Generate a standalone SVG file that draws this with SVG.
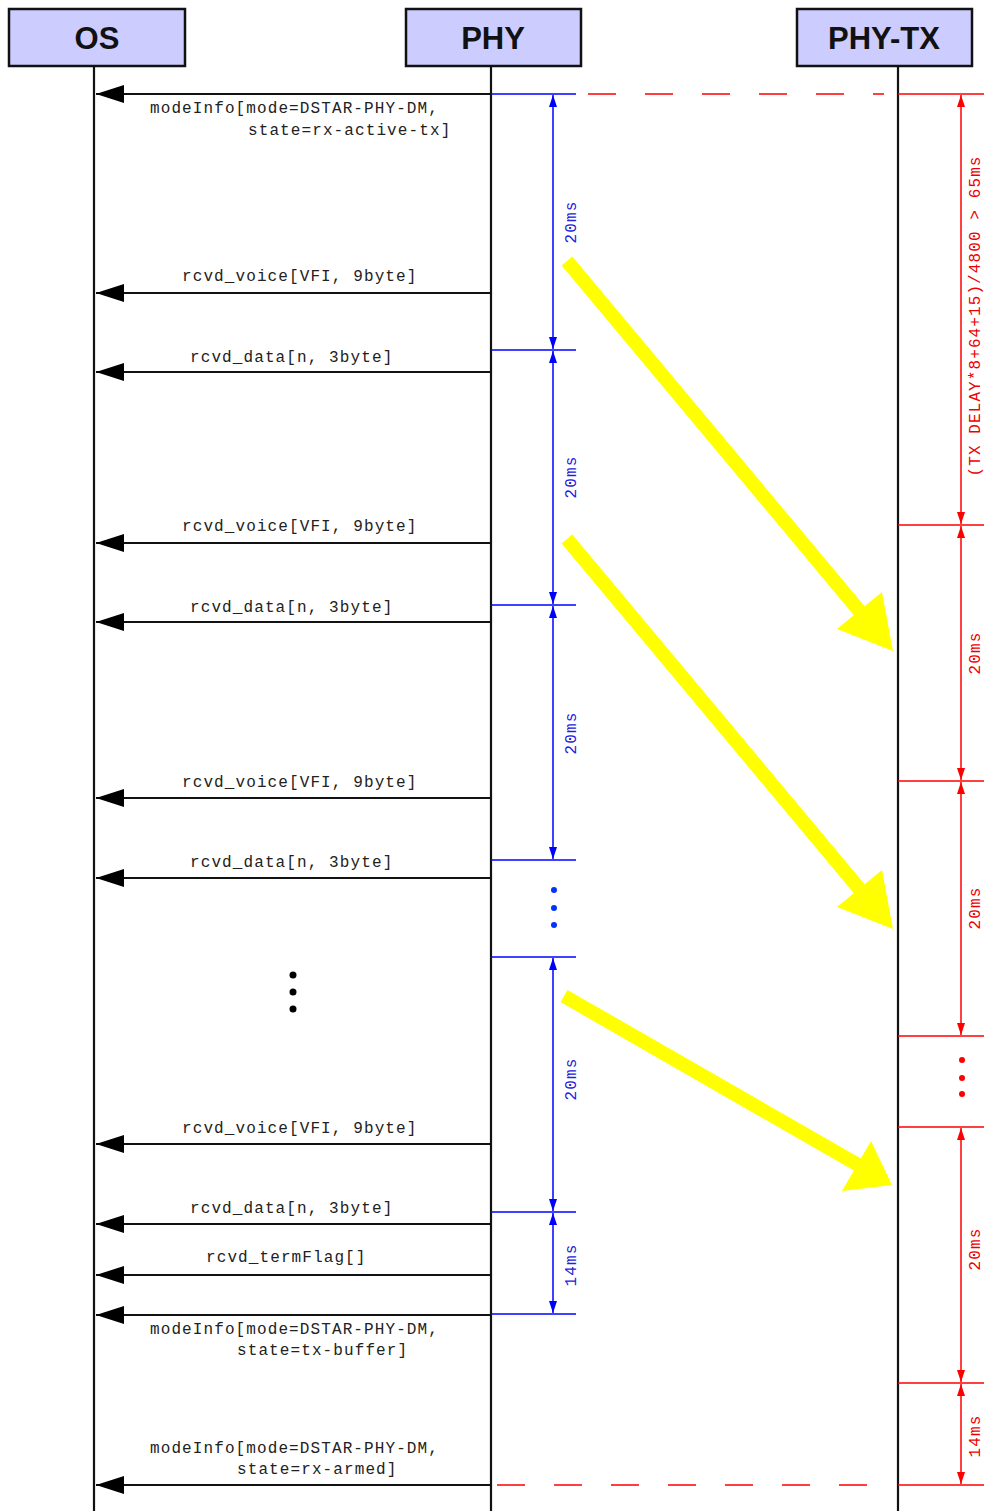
<svg xmlns="http://www.w3.org/2000/svg" width="984" height="1511" viewBox="0 0 984 1511">
<defs>
<style>
.box{fill:#ccccff;stroke:#111;stroke-width:2.5}
.hdr{font-family:"Liberation Sans",Arial,sans-serif;font-weight:bold;font-size:31px;fill:#111;text-anchor:middle}
.life{stroke:#111;stroke-width:2.2;fill:none}
.msg{stroke:#111;stroke-width:2;fill:none;marker-end:url(#ah)}
.mono{font-family:"Liberation Mono","Courier New",monospace;font-size:16px;letter-spacing:1.1px;fill:#222}
.bl{stroke:#0000ff;stroke-width:1.5;fill:none}
.bd{stroke:#0000ff;stroke-width:1.5;fill:none;marker-start:url(#ab);marker-end:url(#ab)}
.rl{stroke:#ff0000;stroke-width:1.5;fill:none}
.rd{stroke:#ff0000;stroke-width:1.5;fill:none;marker-start:url(#ar);marker-end:url(#ar)}
.dash{stroke:#ff0000;stroke-width:1.5;fill:none;stroke-dasharray:28 29}
.btxt{font-family:"Liberation Mono","Courier New",monospace;font-size:16px;letter-spacing:1.1px;fill:#2222dd;text-anchor:middle}
.rtxt{font-family:"Liberation Mono","Courier New",monospace;font-size:16px;letter-spacing:1.1px;fill:#ee0000;text-anchor:middle}
.yl{stroke:#ffff00;stroke-width:14;fill:none}
.yh{fill:#ffff00}
</style>
<marker id="ah" markerUnits="userSpaceOnUse" markerWidth="30" markerHeight="20" refX="28" refY="9" orient="auto"><path d="M0,0 L28,9 L0,18 z" fill="#000"/></marker>
<marker id="ab" markerUnits="userSpaceOnUse" markerWidth="14" markerHeight="10" refX="12" refY="4" orient="auto-start-reverse"><path d="M0,0 L12,4 L0,8 z" fill="#0000ff"/></marker>
<marker id="ar" markerUnits="userSpaceOnUse" markerWidth="14" markerHeight="10" refX="12" refY="4" orient="auto-start-reverse"><path d="M0,0 L12,4 L0,8 z" fill="#ff0000"/></marker>
</defs>
<rect width="984" height="1511" fill="#fff"/>

<g id="node-os">
<line class="life" x1="94" y1="66" x2="94" y2="1511"/>
<rect class="box" x="9" y="9" width="176" height="57"/>
<text class="hdr" x="97" y="49">OS</text>
</g>
<g id="node-phy">
<line class="life" x1="491" y1="66" x2="491" y2="1511"/>
<rect class="box" x="406" y="9" width="175" height="57"/>
<text class="hdr" x="493" y="49">PHY</text>
</g>
<g id="node-phytx">
<line class="life" x1="898" y1="66" x2="898" y2="1511"/>
<rect class="box" x="797" y="9" width="175" height="57"/>
<text class="hdr" x="884" y="49">PHY-TX</text>
</g>

<g id="connectors">
<line class="msg" x1="491" y1="94" x2="96" y2="94"/>
<line class="msg" x1="491" y1="293" x2="96" y2="293"/>
<line class="msg" x1="491" y1="372" x2="96" y2="372"/>
<line class="msg" x1="491" y1="543" x2="96" y2="543"/>
<line class="msg" x1="491" y1="622" x2="96" y2="622"/>
<line class="msg" x1="491" y1="798" x2="96" y2="798"/>
<line class="msg" x1="491" y1="878" x2="96" y2="878"/>
<line class="msg" x1="491" y1="1144" x2="96" y2="1144"/>
<line class="msg" x1="491" y1="1224" x2="96" y2="1224"/>
<line class="msg" x1="491" y1="1275" x2="96" y2="1275"/>
<line class="msg" x1="491" y1="1315" x2="96" y2="1315"/>
<line class="msg" x1="491" y1="1485" x2="96" y2="1485"/>
</g>

<g id="labels">
<text class="mono" x="150" y="113">modeInfo[mode=DSTAR-PHY-DM,</text>
<text class="mono" x="248" y="135">state=rx-active-tx]</text>
<text class="mono" x="182" y="281">rcvd_voice[VFI, 9byte]</text>
<text class="mono" x="190" y="362">rcvd_data[n, 3byte]</text>
<text class="mono" x="182" y="531">rcvd_voice[VFI, 9byte]</text>
<text class="mono" x="190" y="612">rcvd_data[n, 3byte]</text>
<text class="mono" x="182" y="787">rcvd_voice[VFI, 9byte]</text>
<text class="mono" x="190" y="867">rcvd_data[n, 3byte]</text>
<text class="mono" x="182" y="1133">rcvd_voice[VFI, 9byte]</text>
<text class="mono" x="190" y="1213">rcvd_data[n, 3byte]</text>
<text class="mono" x="206" y="1262">rcvd_termFlag[]</text>
<text class="mono" x="150" y="1334">modeInfo[mode=DSTAR-PHY-DM,</text>
<text class="mono" x="237" y="1355">state=tx-buffer]</text>
<text class="mono" x="150" y="1453">modeInfo[mode=DSTAR-PHY-DM,</text>
<text class="mono" x="237" y="1474">state=rx-armed]</text>
</g>

<g id="dots-os">
<circle cx="293" cy="975" r="3.5" fill="#000"/>
<circle cx="293" cy="992" r="3.5" fill="#000"/>
<circle cx="293" cy="1009" r="3.5" fill="#000"/>
</g>

<g id="timing-phy">
<line class="bl" x1="491" y1="94" x2="576" y2="94"/>
<line class="bl" x1="491" y1="350" x2="576" y2="350"/>
<line class="bl" x1="491" y1="605" x2="576" y2="605"/>
<line class="bl" x1="491" y1="860" x2="576" y2="860"/>
<line class="bl" x1="491" y1="957" x2="576" y2="957"/>
<line class="bl" x1="491" y1="1212" x2="576" y2="1212"/>
<line class="bl" x1="491" y1="1314" x2="576" y2="1314"/>
<line class="bd" x1="553" y1="95" x2="553" y2="349"/>
<line class="bd" x1="553" y1="351" x2="553" y2="604"/>
<line class="bd" x1="553" y1="606" x2="553" y2="859"/>
<line class="bd" x1="553" y1="958" x2="553" y2="1211"/>
<line class="bd" x1="553" y1="1213" x2="553" y2="1313"/>
<circle cx="554" cy="890" r="3" fill="#0033ff"/>
<circle cx="554" cy="908" r="3" fill="#0033ff"/>
<circle cx="554" cy="925" r="3" fill="#0033ff"/>
<text class="btxt" transform="translate(576,222) rotate(-90)">20ms</text>
<text class="btxt" transform="translate(576,477) rotate(-90)">20ms</text>
<text class="btxt" transform="translate(576,733) rotate(-90)">20ms</text>
<text class="btxt" transform="translate(576,1079) rotate(-90)">20ms</text>
<text class="btxt" transform="translate(576,1265) rotate(-90)">14ms</text>
</g>

<g id="timing-phytx">
<line class="dash" x1="588" y1="94" x2="884" y2="94"/>
<line class="dash" x1="497" y1="1485" x2="884" y2="1485"/>
<line class="rl" x1="898" y1="94" x2="984" y2="94"/>
<line class="rl" x1="898" y1="525" x2="984" y2="525"/>
<line class="rl" x1="898" y1="781" x2="984" y2="781"/>
<line class="rl" x1="898" y1="1036" x2="984" y2="1036"/>
<line class="rl" x1="898" y1="1127" x2="984" y2="1127"/>
<line class="rl" x1="898" y1="1383" x2="984" y2="1383"/>
<line class="rl" x1="898" y1="1485" x2="984" y2="1485"/>
<line class="rd" x1="961" y1="95" x2="961" y2="524"/>
<line class="rd" x1="961" y1="526" x2="961" y2="780"/>
<line class="rd" x1="961" y1="782" x2="961" y2="1035"/>
<line class="rd" x1="961" y1="1128" x2="961" y2="1382"/>
<line class="rd" x1="961" y1="1384" x2="961" y2="1484"/>
<circle cx="962" cy="1060" r="3" fill="#ff0000"/>
<circle cx="962" cy="1078" r="3" fill="#ff0000"/>
<circle cx="962" cy="1094" r="3" fill="#ff0000"/>
<text class="rtxt" transform="translate(980,316) rotate(-90)">(TX DELAY*8+64+15)/4800 &gt; 65ms</text>
<text class="rtxt" transform="translate(980,653) rotate(-90)">20ms</text>
<text class="rtxt" transform="translate(980,908) rotate(-90)">20ms</text>
<text class="rtxt" transform="translate(980,1249) rotate(-90)">20ms</text>
<text class="rtxt" transform="translate(980,1436) rotate(-90)">14ms</text>
</g>

<g id="yellow-arrows">
<line class="yl" x1="567" y1="261" x2="862" y2="614"/>
<polygon class="yh" points="893,651 837,629 882,592"/>
<line class="yl" x1="567" y1="539" x2="862" y2="892"/>
<polygon class="yh" points="893,929 837,907 882,870"/>
<line class="yl" x1="564" y1="996" x2="860" y2="1166"/>
<polygon class="yh" points="892,1185 842,1191 871,1141"/>
</g>
</svg>
